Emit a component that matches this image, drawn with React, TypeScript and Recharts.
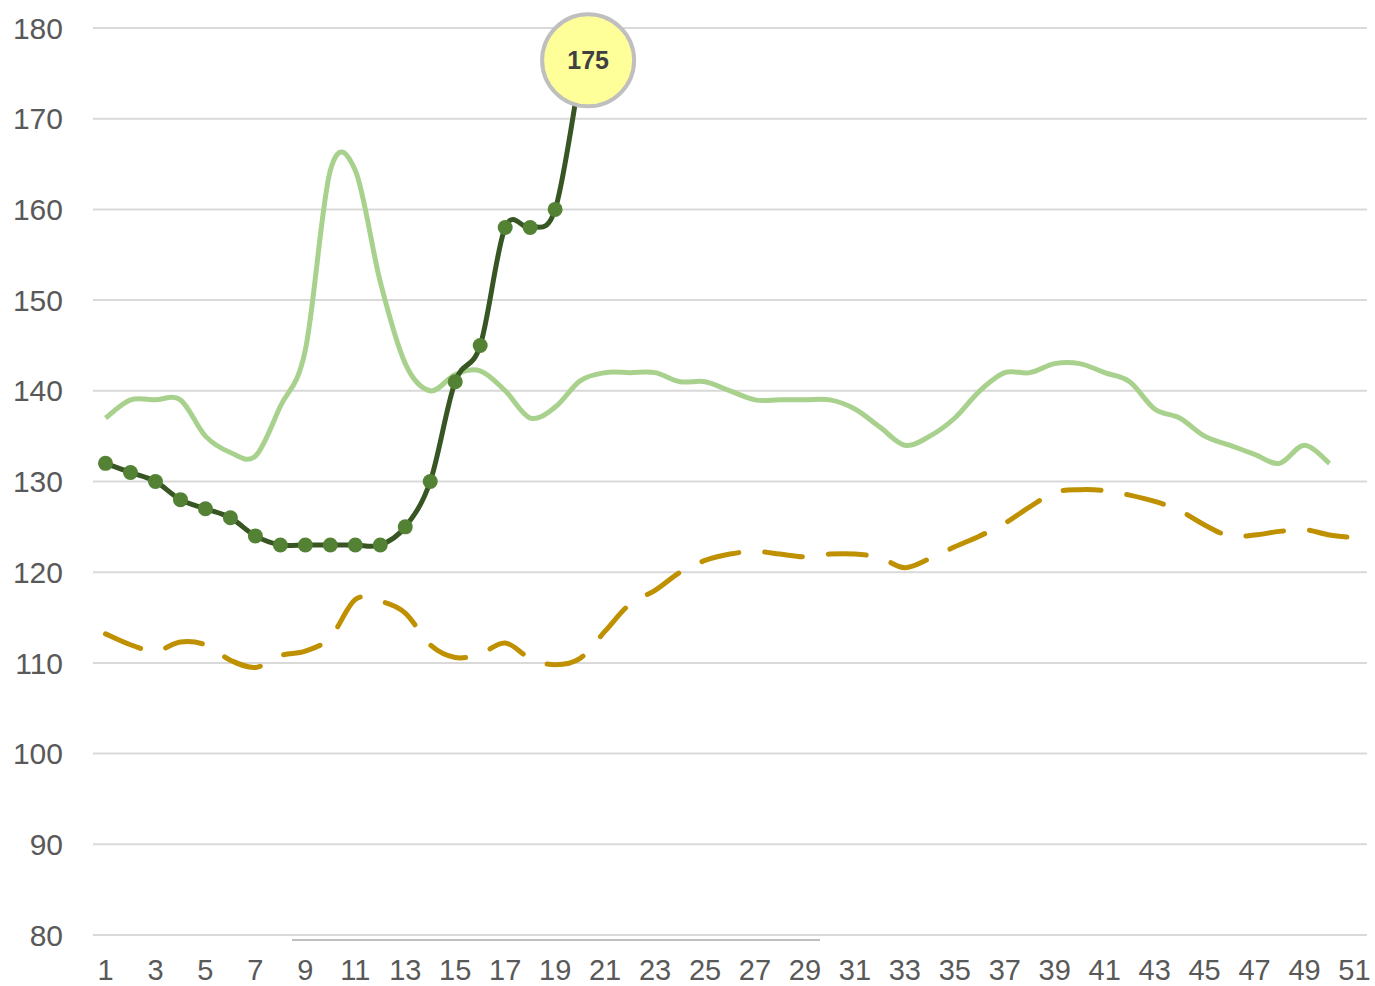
import React from "react";
import { LineChart, Line, XAxis, YAxis, CartesianGrid } from "recharts";

const weeks: number[] = [
  1, 2, 3, 4, 5, 6, 7, 8, 9, 10, 11, 12, 13, 14, 15, 16, 17, 18, 19, 20,
  21, 22, 23, 24, 25, 26, 27, 28, 29, 30, 31, 32, 33, 34, 35, 36, 37, 38, 39, 40,
  41, 42, 43, 44, 45, 46, 47, 48, 49, 50, 51,
];

const currentSeries: (number | null)[] = [
  132, 131, 130, 128, 127, 126, 124, 123, 123, 123, 123, 123, 125, 130, 141, 145, 158, 158, 160, 175,
];

const lightSeries: (number | null)[] = [
  137, 139, 139, 139, 135, 133.2, 132.8, 138.3, 144.5, 164.3, 164.3, 152, 143, 140, 141.8, 142.2, 140, 137, 138.2, 141.1,
  142, 142, 142, 141, 141, 140, 139, 139, 139, 139, 138, 136, 134, 135, 137, 140, 142, 142, 143, 143,
  142, 141, 138, 137, 135, 134, 133, 132, 134, 132,
];

const goldSeries: (number | null)[] = [
  113.2, 112, 111.3, 112.3, 112, 110.3, 109.5, 110.8, 111.3, 112.8, 117, 116.8, 115.5, 112, 110.6, 111, 112.2, 110.5, 109.8, 110.5,
  113.5, 116.5, 118, 120, 121.3, 122, 122.3, 122, 121.7, 122, 122, 121.6, 120.5, 121.5, 122.8, 124, 125.4, 127.2, 128.8, 129.1,
  129, 128.5, 127.8, 126.8, 125.2, 124, 124.1, 124.5, 124.7, 124.1, 123.8,
];

const yTicks: number[] = [80, 90, 100, 110, 120, 130, 140, 150, 160, 170, 180];

const data = weeks.map((w, i) => ({
  week: w,
  current: i < currentSeries.length ? currentSeries[i] : null,
  light: i < lightSeries.length ? lightSeries[i] : null,
  gold: i < goldSeries.length ? goldSeries[i] : null,
}));

// Excel-like smoothed curve (Catmull-Rom, uniform)
const excelCurve = (context: any) => {
  let pts: number[][] = [];
  return {
    areaStart() {},
    areaEnd() {},
    lineStart() {
      pts = [];
    },
    point(x: number, y: number) {
      pts.push([+x, +y]);
    },
    lineEnd() {
      const n = pts.length;
      if (!n) return;
      context.moveTo(pts[0][0], pts[0][1]);
      if (n === 1) return;
      for (let i = 0; i < n - 1; i++) {
        const p0 = pts[Math.max(i - 1, 0)];
        const p1 = pts[i];
        const p2 = pts[i + 1];
        const p3 = pts[Math.min(i + 2, n - 1)];
        const c1x = p1[0] + (p2[0] - p0[0]) / 6;
        const c1y = p1[1] + (p2[1] - p0[1]) / 6;
        const c2x = p2[0] - (p3[0] - p1[0]) / 6;
        const c2y = p2[1] - (p3[1] - p1[1]) / 6;
        context.bezierCurveTo(c1x, c1y, c2x, c2y, p2[0], p2[1]);
      }
    },
  };
};

const FONT = '"Liberation Sans", Arial, sans-serif';

const lastIndex = currentSeries.length - 1;

const renderDot = (props: any) => {
  const { cx, cy, index, value } = props;
  if (value == null || cx == null || cy == null) return <g key={`d-${index}`} />;
  if (index === lastIndex) {
    return (
      <g key={`d-${index}`}>
        <circle cx={cx + 8} cy={cy - 13} r={46} fill="#ffff99" stroke="#bfbfbf" strokeWidth={4} />
        <text
          x={cx + 8}
          y={cy - 13}
          textAnchor="middle"
          dominantBaseline="central"
          fontFamily={FONT}
          fontWeight="bold"
          fontSize={25}
          fill="#404040"
        >
          {currentSeries[lastIndex]}
        </text>
      </g>
    );
  }
  return <circle key={`d-${index}`} cx={cx} cy={cy} r={7.5} fill="#548235" />;
};

export default function App() {
  return (
    <div style={{ position: "absolute", left: 0, top: 0, width: 1375, height: 986, background: "#fff" }}>
      <LineChart
        width={1375}
        height={986}
        data={data}
        margin={{ top: 28, right: 8, bottom: 0, left: 13 }}
        style={{ fontFamily: FONT }}
      >
        <CartesianGrid vertical={false} stroke="#d9d9d9" strokeWidth={2} />
        <XAxis
          dataKey="week"
          type="category"
          interval={1}
          padding={{ left: 12.5, right: 12.5 }}
          axisLine={false}
          tickLine={false}
          tickSize={0}
          tickMargin={24}
          height={51}
          tick={{ fill: "#595959", fontSize: 29, fontFamily: FONT }}
        />
        <YAxis
          domain={[80, 180]}
          ticks={yTicks}
          interval={0}
          axisLine={false}
          tickLine={false}
          tickSize={0}
          tickMargin={30}
          width={80}
          tick={{ fill: "#595959", fontSize: 30, fontFamily: FONT }}
        />
        <Line
          dataKey="light"
          type={excelCurve as any}
          stroke="#a9d18e"
          strokeWidth={5}
          dot={false}
          activeDot={false}
          isAnimationActive={false}
        />
        <Line
          dataKey="gold"
          type={excelCurve as any}
          stroke="#bf9000"
          strokeWidth={5}
          strokeDasharray="38 26"
          strokeLinecap="round"
          dot={false}
          activeDot={false}
          isAnimationActive={false}
        />
        <Line
          dataKey="current"
          type={excelCurve as any}
          stroke="#375623"
          strokeWidth={5}
          dot={renderDot}
          activeDot={false}
          isAnimationActive={false}
        />
      </LineChart>
      <div
        style={{
          position: "absolute",
          left: 292,
          top: 939,
          width: 528,
          height: 2,
          background: "#bfbfbf",
        }}
      />
    </div>
  );
}
